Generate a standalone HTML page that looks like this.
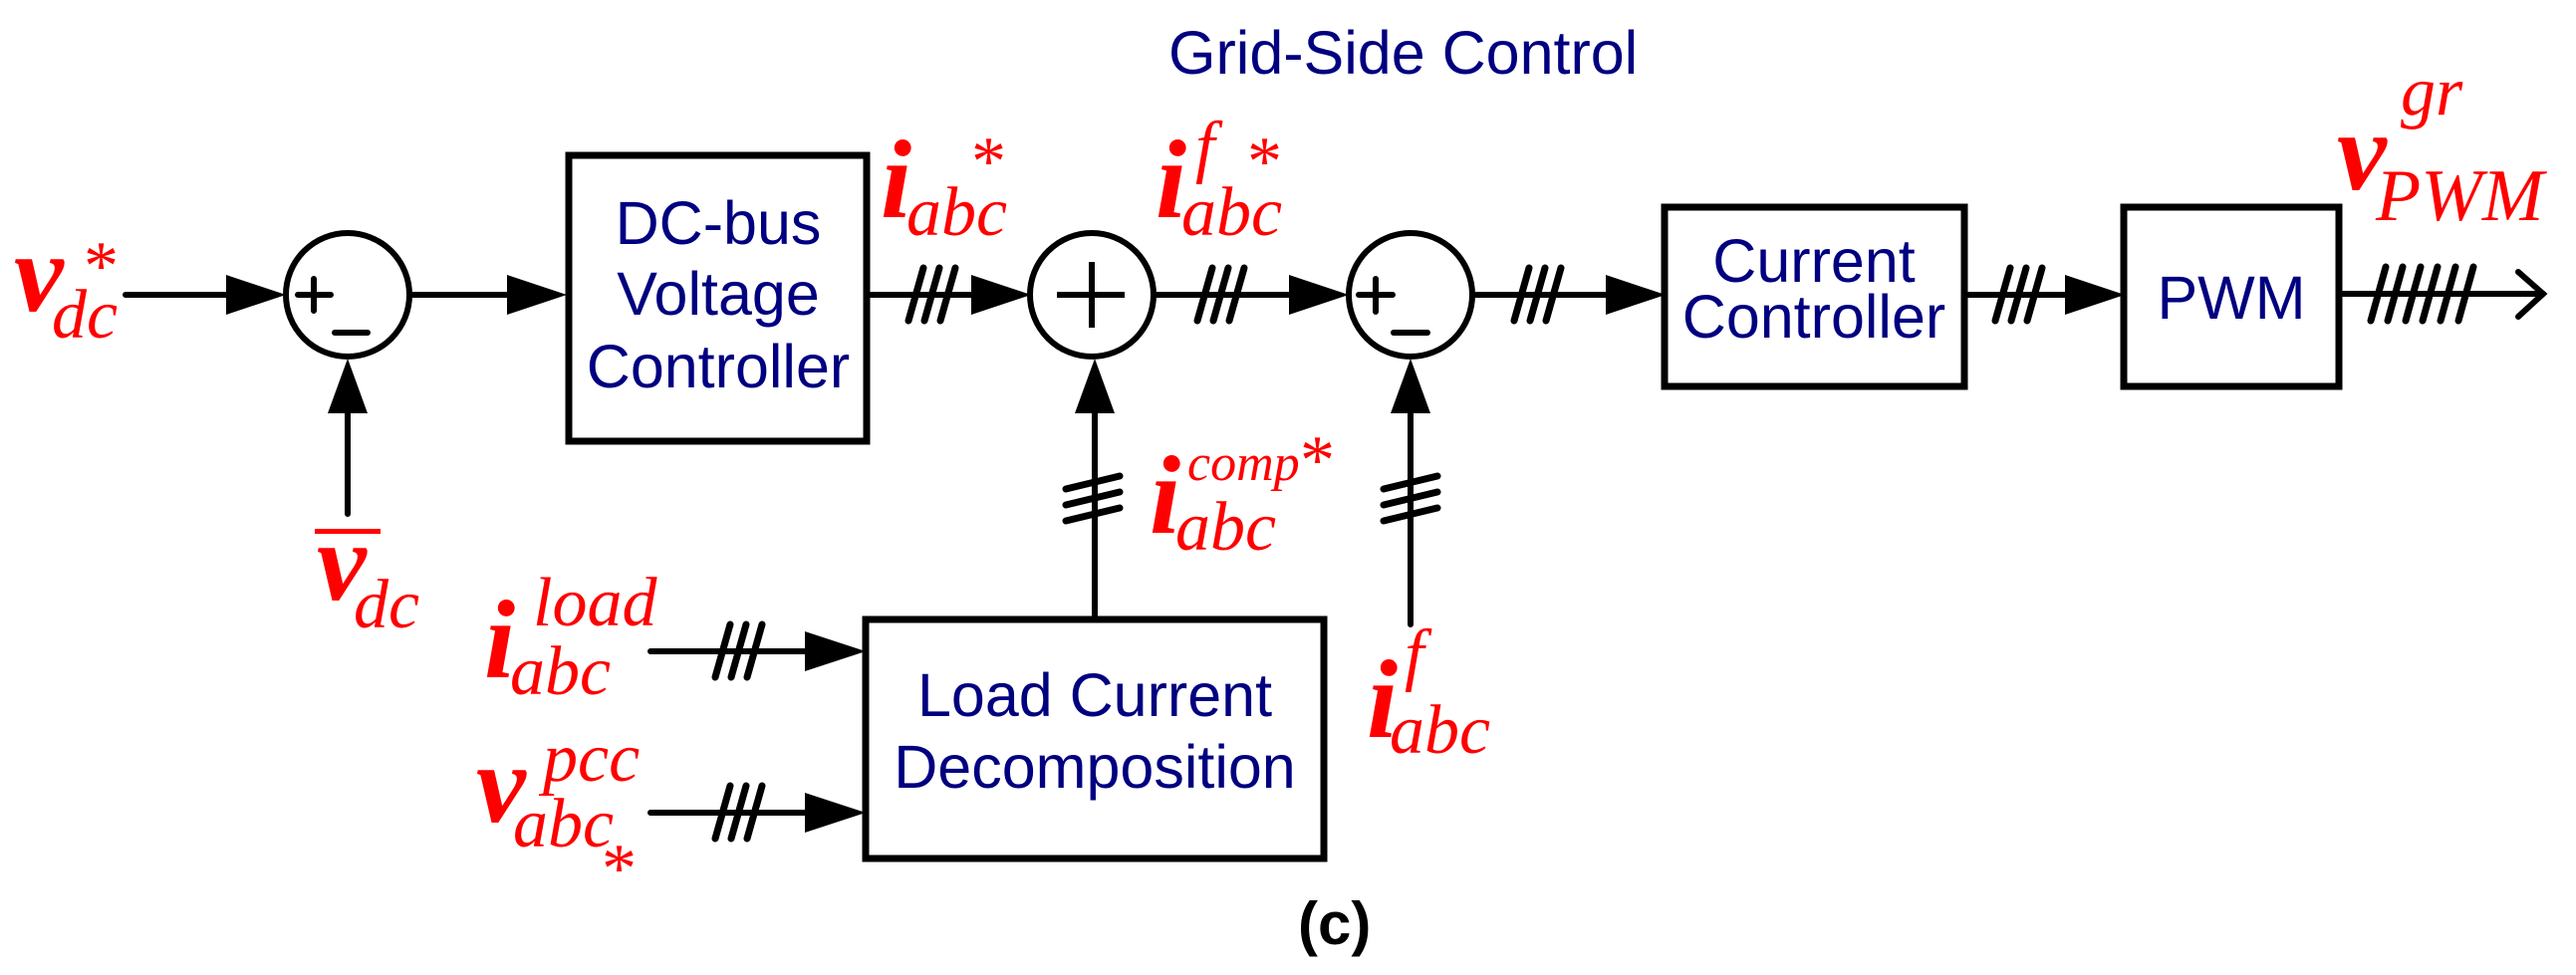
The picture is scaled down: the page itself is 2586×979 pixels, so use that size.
<!DOCTYPE html>
<html><head><meta charset="utf-8"><style>
html,body{margin:0;padding:0;background:#fff;}
svg{display:block;}
.m{font-family:"Liberation Serif",serif;font-style:italic;font-weight:bold;font-size:112px;fill:#ff0000;}
.s{font-family:"Liberation Serif",serif;font-style:italic;font-size:70px;fill:#ff0000;}
.st{font-family:"Liberation Serif",serif;font-size:70px;fill:#ff0000;}
.b{font-family:"Liberation Sans",sans-serif;font-size:61px;fill:#000080;}
</style></head><body>
<svg width="2586" height="979" viewBox="0 0 2586 979" xmlns="http://www.w3.org/2000/svg">
<g stroke="#000" stroke-width="6" fill="none" stroke-linecap="round">
<g stroke-width="7">
<rect x="571" y="156" width="299" height="287"/>
<rect x="869" y="622" width="460" height="240"/>
<rect x="1671" y="208" width="301" height="180"/>
<rect x="2132" y="208" width="216" height="180"/>
</g>
<circle cx="349" cy="296" r="62"/>
<circle cx="1096" cy="296" r="62"/>
<circle cx="1416" cy="296" r="62"/>
<path d="M299 296H332M315 280V312M336 334H369"/>
<path d="M1061 296H1129M1096 263V329" stroke-linecap="butt"/>
<path d="M1364 296H1398M1381 280V313M1399 334H1433"/>
<path d="M126 296H230M411 296H512M871 296H978M1158 296H1296M1478 296H1615M1972 296H2076M2348 295H2553M653 654H810M653 816H810M349 516V413M1099 622V413M1416 627V413"/>
<path d="M2528 273L2553 295L2528 318" stroke-linejoin="miter"/>
<g stroke-width="7">
<path d="M912 322L927 269M928 322L943 269M944 322L959 269"/>
<path d="M1202 322L1217 269M1218 322L1233 269M1234 322L1249 269"/>
<path d="M1520 322L1535 269M1536 322L1551 269M1552 322L1567 269"/>
<path d="M2003 322L2018 269M2019 322L2034 269M2035 322L2050 269"/>
<path d="M718 680L733 627M734 680L749 627M750 680L765 627"/>
<path d="M718 842L733 789M734 842L749 789M750 842L765 789"/>
<path d="M2380 322L2395 268M2397 322L2412 268M2415 322L2430 268M2432 322L2447 268M2450 322L2465 268M2468 322L2483 268"/>
<path d="M1070 491L1124 478M1070 507L1124 494M1070 523L1124 510"/>
<path d="M1389 491L1443 478M1389 507L1443 494M1389 523L1443 510"/>
</g>
</g>
<g fill="#000">
<polygon points="227,276 287,296 227,316"/>
<polygon points="509,276 569,296 509,316"/>
<polygon points="975,276 1035,296 975,316"/>
<polygon points="1294,276 1354,296 1294,316"/>
<polygon points="1612,276 1672,296 1612,316"/>
<polygon points="2073,276 2133,296 2073,316"/>
<polygon points="808,634 869,654 808,674"/>
<polygon points="808,796 869,816 808,836"/>
<polygon points="329,415 349,360 369,415"/>
<polygon points="1079,415 1099,360 1119,415"/>
<polygon points="1396,415 1416,360 1436,415"/>
</g>
<g class="b" text-anchor="middle">
<text x="721" y="245">DC-bus</text>
<text x="721" y="316">Voltage</text>
<text x="721" y="389">Controller</text>
<text x="1099" y="719">Load Current</text>
<text x="1099" y="791">Decomposition</text>
<text x="1821" y="283">Current</text>
<text x="1821" y="339">Controller</text>
<text x="2240" y="320">PWM</text>
</g>
<text class="b" x="1173" y="74">Grid-Side Control</text>
<text x="1303" y="948" style="font-family:'Liberation Sans',sans-serif;font-weight:bold;font-size:60px;fill:#000">(c)</text>
<text class="m" x="14" y="312">v</text><text class="s" x="52" y="339">dc</text><text class="st" x="84" y="290">*</text>
<rect x="316" y="531" width="66" height="5" fill="#ff0000"/>
<text class="m" x="318" y="602">v</text><text class="s" x="355" y="630">dc</text>
<text class="m" x="884" y="218">i</text><text class="s" x="910" y="236">abc</text><text class="st" x="975" y="185">*</text>
<text class="m" x="1160" y="218">i</text><text class="s" x="1186" y="236">abc</text><text class="s" x="1200" y="170">f</text><text class="st" x="1252" y="185">*</text>
<text class="m" x="1154" y="535">i</text><text class="s" x="1180" y="552">abc</text><text class="s" x="1192" y="482" style="font-size:52px">comp</text><text class="st" x="1305" y="485">*</text>
<text class="m" x="486" y="680">i</text><text class="s" x="512" y="697">abc</text><text class="s" x="535" y="628">load</text>
<text class="m" x="478" y="825">v</text><text class="s" x="515" y="850">abc</text><text class="s" x="545" y="784">pcc</text><text class="st" x="604" y="895">*</text>
<text class="m" x="1372" y="740">i</text><text class="s" x="1395" y="756">abc</text><text class="s" x="1410" y="680">f</text>
<text class="m" x="2346" y="190">v</text><text class="s" x="2385" y="221" style="font-size:74px">PWM</text><text class="s" x="2410" y="115">gr</text>
</svg>
</body></html>
